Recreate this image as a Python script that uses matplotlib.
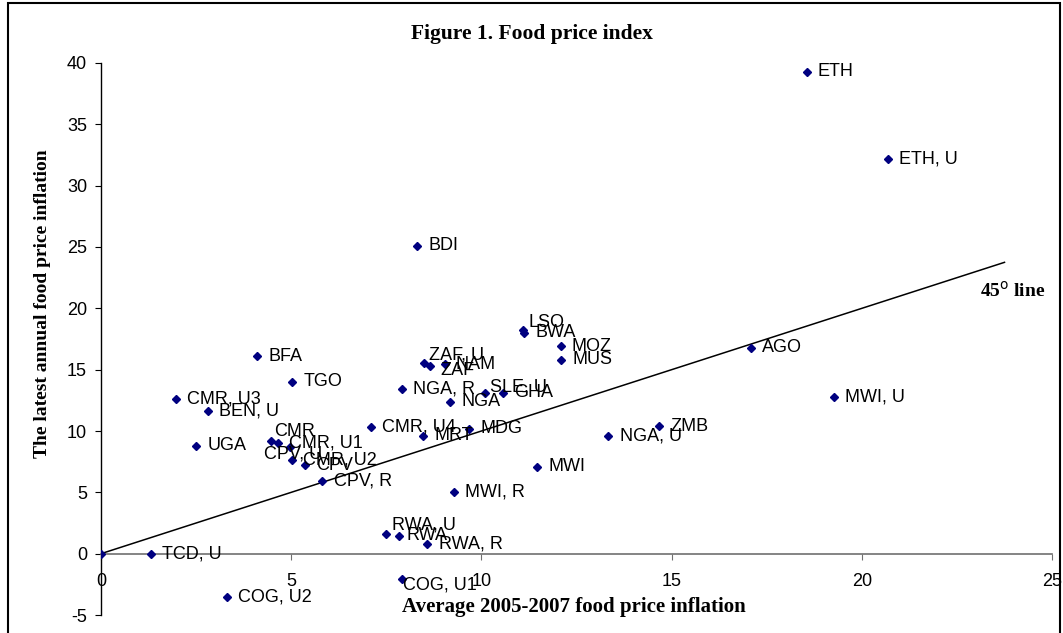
import matplotlib.pyplot as plt
from matplotlib.patches import Rectangle

plt.rcParams['axes.unicode_minus'] = False

# values
countries = ["ETH", "ETH, U", "BDI", "LSO", "BWA", "MOZ", "MUS", "AGO", "MWI, U",
             "BFA", "TGO", "CMR, U3", "BEN, U", "UGA", "CMR", "CMR, U1", "CPV, U",
             "CMR, U2", "CPV", "CPV, R", "CMR, U4", "ZAF, U", "ZAF", "NAM", "NGA, R",
             "SLE, U", "GHA", "NGA", "MRT", "MDG", "NGA, U", "ZMB", "MWI", "MWI, R",
             "RWA, U", "RWA", "RWA, R", "TCD, U", "COG, U1", "COG, U2", ""]
avg_2005_2007 = [18.55, 20.68, 8.32, 11.10, 11.13, 12.08, 12.10, 17.08, 19.26,
                 4.10, 5.03, 1.97, 2.82, 2.50, 4.47, 4.66, 4.97,
                 5.03, 5.37, 5.82, 7.10, 8.50, 8.66, 9.03, 7.92,
                 10.10, 10.58, 9.18, 8.47, 9.68, 13.34, 14.68, 11.47, 9.27,
                 7.50, 7.84, 8.58, 1.32, 7.90, 3.30, 0.0]
latest_inflation = [39.3, 32.2, 25.1, 18.2, 18.0, 16.9, 15.8, 16.8, 12.8,
                    16.1, 14.0, 12.6, 11.6, 8.8, 9.2, 9.0, 8.7,
                    7.65, 7.2, 5.9, 10.3, 15.55, 15.3, 15.45, 13.4,
                    13.1, 13.1, 12.4, 9.6, 10.2, 9.6, 10.4, 7.1, 5.05,
                    1.63, 1.47, 0.81, 0.0, -2.05, -3.55, 0.0]
line_45 = [0, 23.75]

# label nudges (points) where the labels were moved by hand in the original
label_shift = {"LSO": (3.6, 5.8), "CMR": (2.2, 6.5), "CPV, U": (-18.7, -5.0),
               "ZAF, U": (3.6, 5.8), "ZAF": (7.2, -3.6), "SLE, U": (3.6, 4.3),
               "RWA, U": (4.3, 6.5), "RWA": (5.0, 0.0), "COG, U1": (1.4, -4.3)}

fig = plt.figure(figsize=(10.63, 6.33), dpi=100)
ax = fig.add_axes([0.095, 0.0284, 0.8947, 0.8721])

ax.plot(line_45, line_45, color='black', lw=1.1, zorder=1)
ax.plot(avg_2005_2007, latest_inflation, linestyle='none', marker='D', ms=4.3,
        color='#000080', zorder=3)
for name, x, y in zip(countries, avg_2005_2007, latest_inflation):
    if not name:
        continue
    ax.annotate(name, (x, y), xytext=label_shift.get(name, (8, 0)),
                textcoords='offset points', va='center', ha='left',
                fontsize=13, family='Liberation Sans', zorder=4)

ax.set_xlim(0, 25)
ax.set_ylim(-5, 40)
ax.set_xticks([0, 5, 10, 15, 20, 25])
ax.set_yticks(range(-5, 41, 5))
ax.spines['top'].set_visible(False)
ax.spines['right'].set_visible(False)
ax.spines['bottom'].set_position(('data', 0))
ax.spines['bottom'].set_color('#707070')
ax.spines['bottom'].set_linewidth(1.2)
ax.spines['left'].set_linewidth(1.0)
ax.tick_params(axis='x', direction='out', length=4, pad=10, colors='#707070',
               labelcolor='black', labelsize=13)
ax.tick_params(axis='y', direction='out', length=4, pad=6, labelsize=13)
for lab in ax.get_xticklabels() + ax.get_yticklabels():
    lab.set_family('Liberation Sans')

ax.text(0.959, 0.587, r'45$^{\mathrm{o}}$ line', transform=ax.transAxes, ha='center',
        va='center', fontsize=14, fontweight='bold', family='Liberation Serif')

fig.text(0.5, 0.946, 'Figure 1. Food price index', ha='center', va='center',
         fontsize=15.5, fontweight='bold', family='Liberation Serif')
fig.text(0.04, 0.52, 'The latest annual food price inflation', rotation=90,
         ha='center', va='center', fontsize=14, fontweight='bold',
         family='Liberation Serif')
fig.text(0.54, 0.041, 'Average 2005-2007 food price inflation', ha='center',
         va='center', fontsize=15, fontweight='bold', family='Liberation Serif')

fig.patches.append(Rectangle((0.0075, -0.01), 0.99, 1.005, transform=fig.transFigure,
                             fill=False, edgecolor='black', lw=1.5))

fig.savefig('out.png', dpi=100)
